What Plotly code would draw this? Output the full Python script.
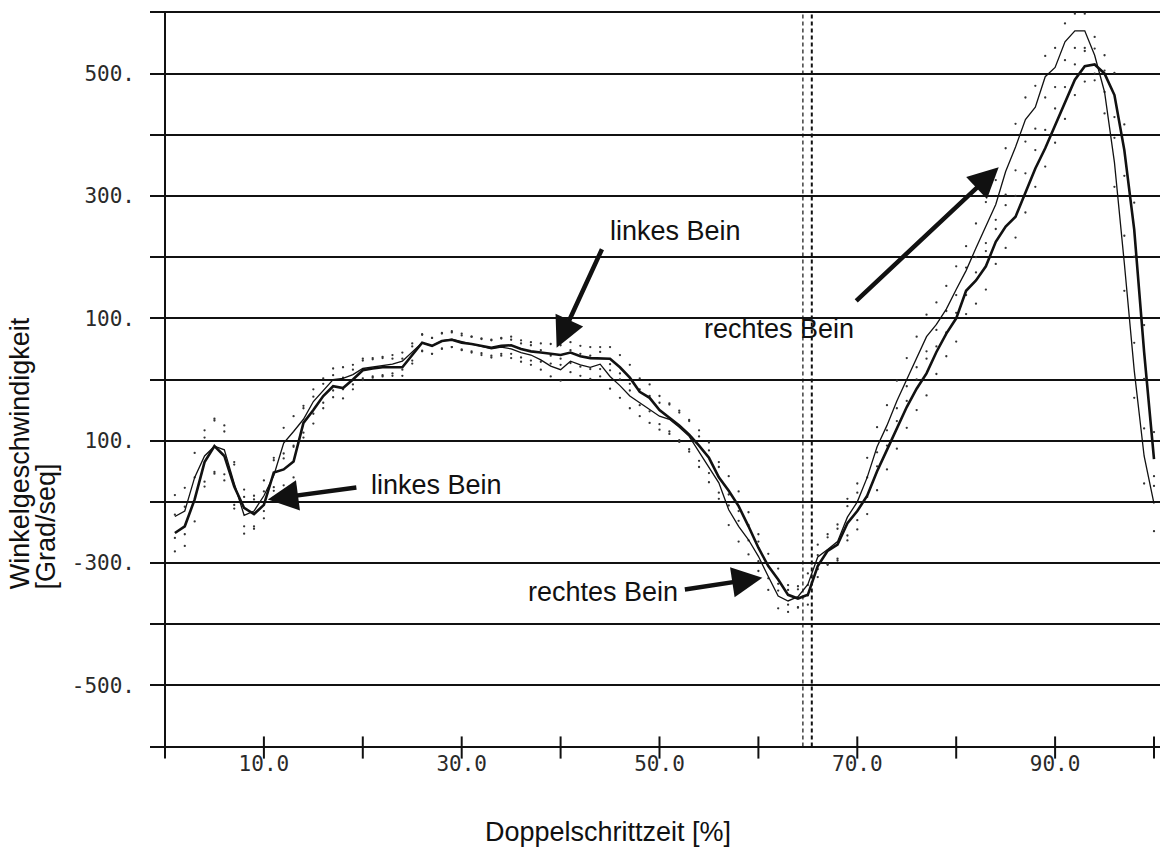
import plotly.graph_objects as go

# Doppelschrittzeit in Prozent (1..100)
pct = list(range(1, 101))

# Mittelwertkurve rechtes Bein (dünne Linie), Grad/sec
rechts = [-224, -215, -160, -125, -109, -115, -170, -222, -215, -190,
          -157, -104, -85, -65, -36, -18, 0, 2, 8, 18,
          20, 22, 25, 30, 45, 60, 55, 63, 66, 62,
          57, 53, 50, 53, 50, 44, 40, 32, 22, 16,
          30, 24, 20, 25, 5, -10, -27, -38, -49, -60,
          -65, -78, -93, -118, -142, -169, -213, -240, -262, -289,
          -322, -354, -362, -355, -335, -290, -278, -265, -225, -200,
          -160, -110, -75, -35, 0, 35, 70, 90, 115, 147,
          178, 215, 250, 286, 340, 380, 425, 445, 495, 510,
          552, 570, 570, 530, 470, 355, 190, 15, -125, -203]

# Mittelwertkurve linkes Bein (dicke Linie), Grad/sec
links = [-251, -240, -196, -135, -109, -125, -175, -210, -220, -205,
         -152, -147, -134, -71, -50, -27, -11, -14, 0, 15,
         18, 20, 20, 20, 40, 60, 55, 63, 65, 60,
         58, 55, 52, 55, 56, 50, 46, 44, 42, 40,
         44, 38, 35, 35, 34, 20, 3, -20, -30, -50,
         -62, -75, -90, -108, -128, -160, -182, -207, -240, -275,
         -305, -327, -352, -358, -352, -305, -280, -270, -235, -215,
         -190, -150, -115, -80, -45, -15, 10, 45, 75, 100,
         145, 162, 185, 225, 250, 266, 305, 345, 378, 415,
         452, 490, 512, 515, 500, 465, 375, 245, 45, -130]

# Standardabweichungen (punktierte Streubänder)
rechts_sd = [35, 38, 40, 42, 45, 40, 35, 30, 25, 25,
             25, 25, 25, 22, 20, 20, 18, 18, 16, 16,
             15, 15, 15, 14, 14, 14, 13, 13, 13, 13,
             13, 13, 14, 14, 15, 15, 16, 16, 17, 18,
             18, 18, 19, 20, 20, 20, 20, 22, 22, 22,
             24, 24, 25, 25, 26, 26, 25, 25, 24, 24,
             22, 20, 18, 17, 18, 20, 25, 28, 30, 30,
             32, 32, 33, 33, 35, 35, 36, 36, 38, 38,
             40, 40, 40, 40, 38, 38, 36, 35, 34, 32,
             30, 28, 28, 30, 35, 40, 45, 45, 45, 45]
links_sd = [30, 32, 36, 40, 42, 40, 36, 30, 24, 22,
            24, 26, 26, 24, 22, 20, 18, 17, 16, 16,
            15, 15, 14, 14, 14, 13, 13, 12, 12, 12,
            12, 12, 13, 13, 14, 14, 15, 15, 16, 16,
            17, 17, 18, 18, 19, 20, 21, 22, 22, 23,
            23, 24, 24, 25, 25, 25, 24, 24, 23, 22,
            20, 18, 16, 15, 16, 18, 22, 26, 28, 30,
            30, 31, 32, 33, 34, 35, 36, 36, 37, 38,
            38, 38, 38, 36, 35, 34, 32, 30, 30, 28,
            26, 25, 25, 26, 30, 36, 42, 44, 44, 44]

y_tickvals = [500, 300, 100, -100, -300, -500]
y_ticktext = ["500.", "300.", "100.", "100.", "-300.", "-500."]
x_tickvals = [10, 30, 50, 70, 90]
x_ticktext = ["10.0", "30.0", "50.0", "70.0", "90.0"]
x_tick_marks = [0, 10, 20, 30, 40, 50, 60, 70, 80, 90, 100]
marker_lines = [64.5, 65.4]

INK = "#111111"
TEXT_FONT = dict(family="Liberation Sans, Arial, sans-serif", size=27, color=INK)
TITLE_FONT = dict(family="Liberation Sans, Arial, sans-serif", size=27, color=INK)
TICK_FONT = dict(family="DejaVu Sans Mono, monospace", size=21, color="#2a2a2a")

fig = go.Figure()

# punktierte Streubänder (Mittelwert ± SD)
for mean, sd in ((rechts, rechts_sd), (links, links_sd)):
    for sign in (1, -1):
        fig.add_trace(go.Scatter(
            x=pct, y=[m + sign * s for m, s in zip(mean, sd)],
            mode="markers", marker=dict(size=2.3, color="#333333"),
            hoverinfo="skip", showlegend=False))

fig.add_trace(go.Scatter(x=pct, y=rechts, mode="lines", name="rechtes Bein",
                         line=dict(color=INK, width=1.3), showlegend=False))
fig.add_trace(go.Scatter(x=pct, y=links, mode="lines", name="linkes Bein",
                         line=dict(color=INK, width=2.6), showlegend=False))

shapes = []
# senkrechte Achse
shapes.append(dict(type="line", xref="x", yref="paper", x0=0, x1=0,
                   y0=-0.012, y1=0.9966, line=dict(color=INK, width=2)))
# Teilstriche auf der Zeitachse (über und unter der Achse)
for t in x_tick_marks:
    shapes.append(dict(type="line", xref="x", yref="paper", x0=t, x1=t,
                       y0=0.017, y1=-0.013, line=dict(color=INK, width=2)))
# gestrichelte Markierungen (Fußaufsatz)
shapes.append(dict(type="line", xref="x", yref="y", x0=marker_lines[0], x1=marker_lines[0],
                   y0=-600, y1=600, line=dict(color=INK, width=1.2, dash="4px,3px")))
shapes.append(dict(type="line", xref="x", yref="y", x0=marker_lines[1], x1=marker_lines[1],
                   y0=-600, y1=600, line=dict(color=INK, width=2, dash="4px,3px")))

annotations = []
# Pfeile: (Spitze x, Spitze y, Versatz ax, ay in Pixel)
arrows = [(39.6, 52, 46, -100), (10.4, -196, 90, -12),
          (60.4, -324, -79, 12), (84.3, 347, -144, 135)]
for ax_, ay_, dx, dy in arrows:
    annotations.append(dict(x=ax_, y=ay_, xref="x", yref="y", text="",
                            showarrow=True, ax=dx, ay=dy, arrowhead=2,
                            arrowsize=1.35, arrowwidth=4.5, arrowcolor=INK))
labels = [("linkes Bein", 51.6, 242), ("linkes Bein", 27.5, -172),
          ("rechtes Bein", 44.3, -347), ("rechtes Bein", 62.1, 82)]
for txt, lx, ly in labels:
    annotations.append(dict(x=lx, y=ly, xref="x", yref="y", text=txt,
                            showarrow=False, font=TEXT_FONT))

# Achsentitel
annotations.append(dict(x=0.453, y=-0.112, xref="paper", yref="paper",
                        text="Doppelschrittzeit [%]", showarrow=False,
                        font=TITLE_FONT, xanchor="center", yanchor="middle"))
annotations.append(dict(x=-0.129, y=0.213, xref="paper", yref="paper",
                        text="Winkelgeschwindigkeit", showarrow=False, textangle=-90,
                        font=TITLE_FONT, xanchor="center", yanchor="bottom"))
annotations.append(dict(x=-0.103, y=0.213, xref="paper", yref="paper",
                        text="[Grad/seq]", showarrow=False, textangle=-90,
                        font=TITLE_FONT, xanchor="center", yanchor="bottom"))

fig.update_layout(
    width=1160, height=852,
    margin=dict(l=150, r=0, t=10, b=103, autoexpand=False),
    paper_bgcolor="white", plot_bgcolor="white",
    shapes=shapes, annotations=annotations,
    xaxis=dict(range=[-1.517, 100.607], showgrid=False, zeroline=False,
               tickmode="array", tickvals=x_tickvals, ticktext=x_ticktext,
               ticks="", tickfont=TICK_FONT, ticklabelstandoff=0, showline=False),
    yaxis=dict(range=[-604, 604], zeroline=False, showline=False,
               tickmode="array", tickvals=y_tickvals, ticktext=y_ticktext,
               ticks="", tickfont=TICK_FONT, ticklabelstandoff=14,
               showgrid=True, gridcolor=INK, gridwidth=2,
               minor=dict(tickmode="linear", tick0=0, dtick=100, showgrid=True,
                          gridcolor=INK, gridwidth=2, ticks="")),
)

fig.write_html("out.html")
